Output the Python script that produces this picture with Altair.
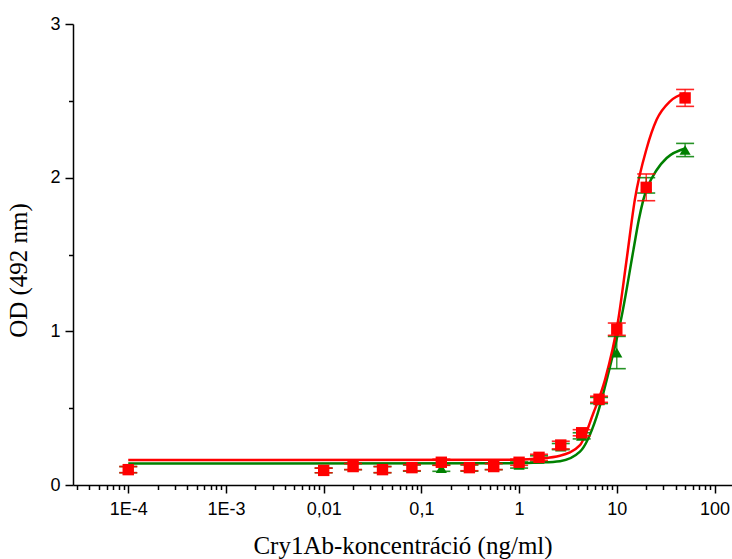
import altair as alt
import pandas as pd
import math

# ---- measured points ----
conc = [1e-4, 0.01, 0.02, 0.04, 0.08, 0.16, 0.31, 0.55, 1.0, 1.6, 2.67, 4.37, 6.58, 10, 20, 50]
red_od = [0.10, 0.095, 0.12, 0.10, 0.113, 0.148, 0.113, 0.12, 0.148, 0.18, 0.26, 0.34, 0.558, 1.014, 1.937, 2.519]
red_err = [0.02, 0.015, 0.02, 0.02, 0.02, 0.02, 0.02, 0.02, 0.02, 0.02, 0.025, 0.02, 0.02, 0.04, 0.087, 0.055]
green_od = [0.10, 0.095, 0.12, 0.10, 0.11, 0.109, 0.11, 0.12, 0.13, 0.17, 0.25, 0.32, 0.55, 0.862, 1.95, 2.18]
green_err = [0.02, 0.015, 0.02, 0.02, 0.02, 0.02, 0.02, 0.02, 0.02, 0.02, 0.02, 0.02, 0.02, 0.105, 0.05, 0.043]

# ---- fitted curves ----
red_curve_x = [1e-4, 1.0, 1.6, 2.62, 4.2, 5.75, 7.57, 10.35, 12.6, 15.3, 20.2, 25.6, 35.1, 50]
red_curve_y = [0.162, 0.165, 0.172, 0.19, 0.26, 0.467, 0.684, 1.075, 1.466, 1.857, 2.19, 2.378, 2.497, 2.55]
green_curve_x = [1e-4, 1.0, 1.6, 2.62, 4.2, 6.22, 8.52, 11.2, 14.8, 16.8, 18.7, 25.6, 32.4, 50]
green_curve_y = [0.14, 0.142, 0.146, 0.155, 0.217, 0.445, 0.77, 1.096, 1.53, 1.726, 1.857, 2.05, 2.128, 2.19]

# ---- axis ticks ----
x_major = [1e-4, 1e-3, 0.01, 0.1, 1, 10, 100]
x_major_labels = ["1E-4", "1E-3", "0,01", "0,1", "1", "10", "100"]
x_minor_mult = [2, 3, 4, 5, 6, 7, 8, 9]
y_ticks = [0, 0.5, 1, 1.5, 2, 2.5, 3]
y_labels = ["0", "", "1", "", "2", "", "3"]

RED = "#ff0000"
GREEN = "#008000"

x_vals = sorted(set(x_major + [m * d for d in [1e-5] + x_major[:-1] for m in x_minor_mult]))
x_vals = [v for v in x_vals if 2.72e-5 <= v <= 151]

is_major = "abs(log(datum.value)/LN10 - round(log(datum.value)/LN10)) < 0.001"
lab = "''"
for v, l in zip(reversed(x_major), reversed(x_major_labels)):
    lab = f"(abs(log(datum.value)/LN10 - ({math.log10(v)})) < 0.001 ? '{l}' : {lab})"

ylab = "''"
for v, l in zip(y_ticks, y_labels):
    ylab = f"(abs(datum.value - {v}) < 0.001 ? '{l}' : {ylab})"

xscale = alt.Scale(type="log", domain=[2.72e-5, 151], nice=False)
yscale = alt.Scale(domain=[0, 3], nice=False)

xaxis = alt.Axis(
    values=x_vals, labelExpr=lab, title="Cry1Ab-koncentráció (ng/ml)",
    tickSize={"condition": {"test": is_major, "value": 8}, "value": 4.5},
    labelFlush=False, labelOverlap=False,
)
yaxis = alt.Axis(
    values=y_ticks, labelExpr=ylab, title="OD (492 nm)",
    tickSize={"condition": {"test": "abs(datum.value - round(datum.value)) < 0.001", "value": 8}, "value": 4.5},
    labelFlush=False, labelOverlap=False, titleY=246,
)

pts = pd.DataFrame({
    "conc": conc * 2,
    "od": red_od + green_od,
    "lo": [o - e for o, e in zip(red_od, red_err)] + [o - e for o, e in zip(green_od, green_err)],
    "hi": [o + e for o, e in zip(red_od, red_err)] + [o + e for o, e in zip(green_od, green_err)],
    "s": ["red"] * len(conc) + ["green"] * len(conc),
})
curves = pd.DataFrame({
    "x": red_curve_x + green_curve_x,
    "y": red_curve_y + green_curve_y,
    "s": ["red"] * len(red_curve_x) + ["green"] * len(green_curve_x),
})

def series_layers(s, color, shape, size):
    p = alt.Chart(pts[pts.s == s])
    c = alt.Chart(curves[curves.s == s])
    line = c.mark_line(color=color, strokeWidth=2.5, interpolate="monotone").encode(
        x=alt.X("x:Q", scale=xscale, axis=xaxis), y=alt.Y("y:Q", scale=yscale, axis=yaxis))
    bar = p.mark_rule(color=color, strokeWidth=1.3, opacity=0.85).encode(
        x=alt.X("conc:Q", scale=xscale), y=alt.Y("lo:Q", scale=yscale), y2="hi:Q")
    cap_lo = p.mark_tick(color=color, orient="horizontal", size=18, thickness=1.6, opacity=0.85).encode(
        x=alt.X("conc:Q", scale=xscale), y=alt.Y("lo:Q", scale=yscale))
    cap_hi = p.mark_tick(color=color, orient="horizontal", size=18, thickness=1.6, opacity=0.85).encode(
        x=alt.X("conc:Q", scale=xscale), y=alt.Y("hi:Q", scale=yscale))
    mk = p.mark_point(color=color, shape=shape, filled=True, size=size, opacity=1).encode(
        x=alt.X("conc:Q", scale=xscale), y=alt.Y("od:Q", scale=yscale))
    return line, bar, cap_lo, cap_hi, mk

gl, gb, gc1, gc2, gm = series_layers("green", GREEN, "triangle-up", 125)
rl, rb, rc1, rc2, rm = series_layers("red", RED, "square", 130)

chart = alt.layer(gl, rl, gb, gc1, gc2, gm, rb, rc1, rc2, rm).properties(
    width=659, height=461,
    padding={"left": 73, "top": 24, "right": 0, "bottom": 74},
    autosize=alt.AutoSizeParams(type="none"),
).configure_view(stroke=None).configure_axis(
    grid=False, domainColor="black", domainWidth=1.5, tickColor="black", tickWidth=1.5,
    labelColor="black", labelFont="Liberation Sans", labelFontSize=18,
    titleColor="black", titleFont="Liberation Serif", titleFontSize=25, titleFontWeight="normal",
).configure_axisX(labelPadding=7, titlePadding=15).configure_axisY(labelPadding=5, titlePadding=18)

chart.save("out.html", embed_options={"renderer": "svg", "actions": False})
